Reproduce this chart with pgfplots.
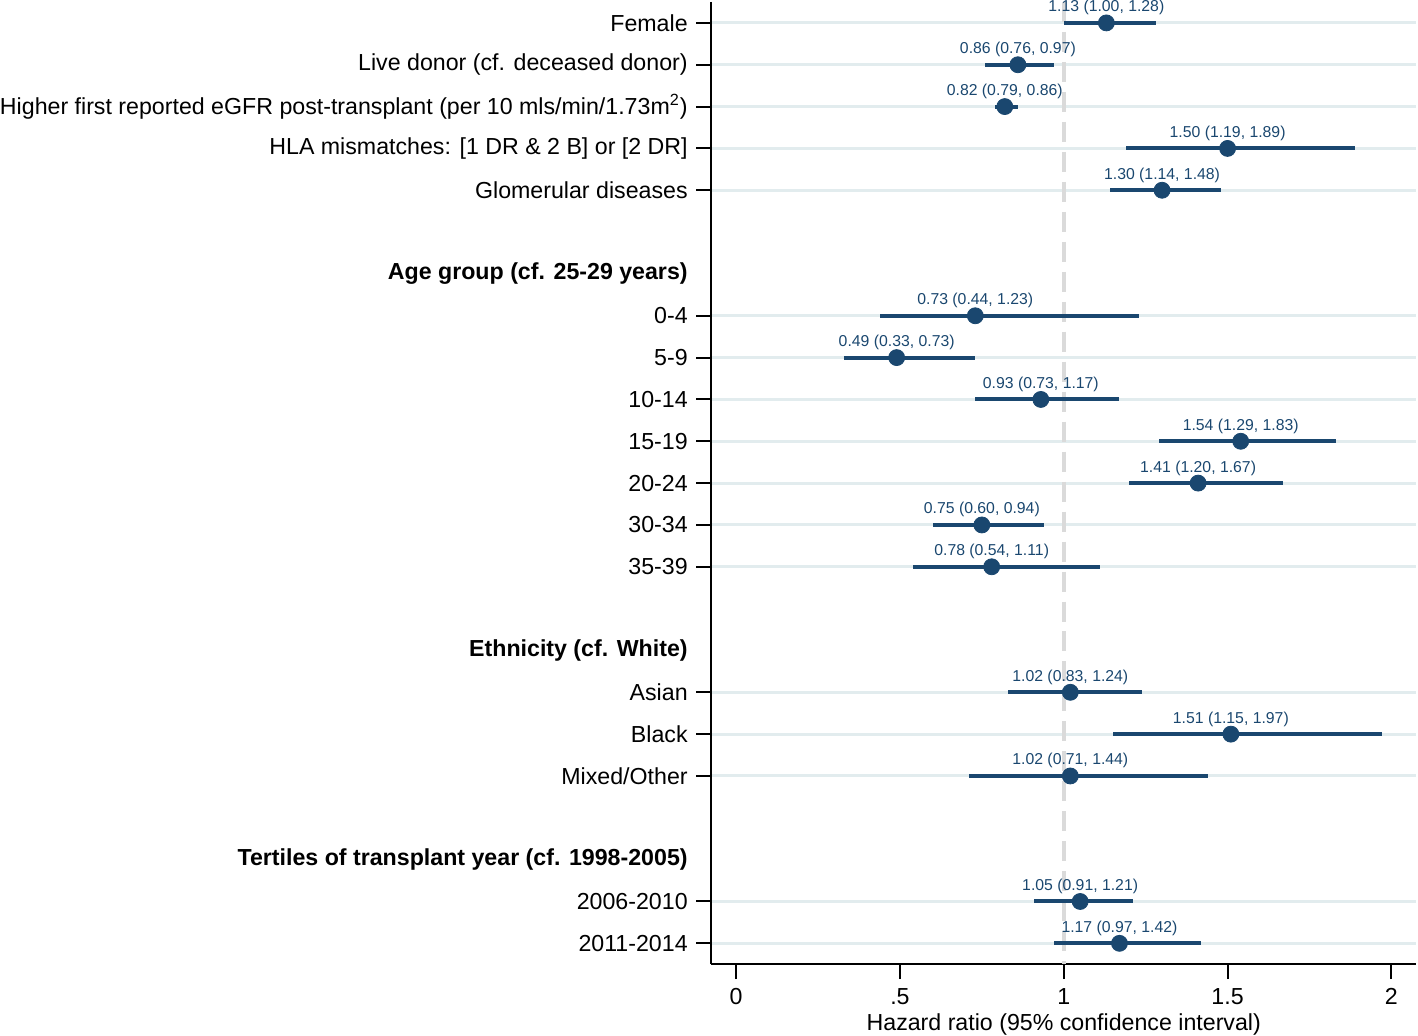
\documentclass[border=0pt]{standalone}
\usepackage{pgfplots}
\pgfplotsset{compat=1.18}
\usepackage{fontspec}
\setmainfont{Liberation Sans}
\definecolor{navy}{RGB}{26,71,111}
\definecolor{gridc}{RGB}{226,236,238}
\definecolor{refc}{RGB}{218,218,218}
\begin{document}
\begin{tikzpicture}
\begin{axis}[
  scale only axis,
  width=353pt, height=481.5pt,
  xmin=-0.0765, xmax=2.0765,
  ymin=-0.5, ymax=22.5,
  y dir=reverse,
  axis x line*=bottom, axis y line*=left,
  axis line style={-, line width=1pt, black},
  tick align=outside,
  major tick length=7.5pt,
  tick style={black, line width=1pt},
  xtick={0,0.5,1,1.5,2},
  xticklabels={0,.5,1,1.5,2},
  ytick={0,1,2,3,4,7,8,9,10,11,12,13,16,17,18,21,22},
  yticklabels={Female,Live donor (cf. deceased donor),Higher first reported eGFR post-transplant (per 10 mls/min/1.73m\textsuperscript{2}),{HLA mismatches: [1 DR \& 2 B] or [2 DR]},Glomerular diseases,0-4,5-9,10-14,15-19,20-24,30-34,35-39,Asian,Black,Mixed/Other,2006-2010,2011-2014},
  extra y ticks={6,15,20},
  extra y tick labels={\textbf{Age group (cf. 25-29 years)},\textbf{Ethnicity (cf. White)},\textbf{Tertiles of transplant year (cf. 1998-2005)}},
  extra y tick style={major tick style={draw=none}, ymajorgrids=false},
  ymajorgrids=true,
  major grid style={gridc, line width=1.5pt},
  tick label style={font=\fontsize{11.6}{14}\selectfont},
  yticklabel style={inner xsep=0pt, xshift=-4pt},
  xticklabel style={yshift=-1pt},
  xlabel={Hazard ratio (95\% confidence interval)},
  xlabel style={font=\fontsize{11.6}{14}\selectfont, inner ysep=0pt, yshift=-1pt},
  clip=false,
]
\addplot[refc, line width=2pt, dash pattern=on 10pt off 5pt] coordinates {(1,-0.5) (1,22.5)};
\addplot[navy, only marks, mark=*, mark size=4pt, mark options={fill=navy, draw=navy},
  error bars/.cd, x dir=both, x explicit, error mark=none,
  error bar style={navy, line width=2pt}]
  table[col sep=semicolon, x=est, y=row,
        x error plus expr=\thisrow{hi}-\thisrow{est},
        x error minus expr=\thisrow{est}-\thisrow{lo}] {
row;est;lo;hi
0;1.13;1.00;1.28
1;0.86;0.76;0.97
2;0.82;0.79;0.86
3;1.50;1.19;1.89
4;1.30;1.14;1.48
7;0.73;0.44;1.23
8;0.49;0.33;0.73
9;0.93;0.73;1.17
10;1.54;1.29;1.83
11;1.41;1.20;1.67
12;0.75;0.60;0.94
13;0.78;0.54;1.11
16;1.02;0.83;1.24
17;1.51;1.15;1.97
18;1.02;0.71;1.44
21;1.05;0.91;1.21
22;1.17;0.97;1.42
};
\addplot[only marks, mark=none,
  point meta=explicit symbolic,
  nodes near coords,
  every node near coord/.append style={anchor=base, yshift=5.5pt, inner sep=0pt, font=\fontsize{7.9}{9}\selectfont, text=navy}]
  table[col sep=semicolon, x=est, y=row, meta=lab] {
row;est;lab
0;1.13;1.13 (1.00, 1.28)
1;0.86;0.86 (0.76, 0.97)
2;0.82;0.82 (0.79, 0.86)
3;1.50;1.50 (1.19, 1.89)
4;1.30;1.30 (1.14, 1.48)
7;0.73;0.73 (0.44, 1.23)
8;0.49;0.49 (0.33, 0.73)
9;0.93;0.93 (0.73, 1.17)
10;1.54;1.54 (1.29, 1.83)
11;1.41;1.41 (1.20, 1.67)
12;0.75;0.75 (0.60, 0.94)
13;0.78;0.78 (0.54, 1.11)
16;1.02;1.02 (0.83, 1.24)
17;1.51;1.51 (1.15, 1.97)
18;1.02;1.02 (0.71, 1.44)
21;1.05;1.05 (0.91, 1.21)
22;1.17;1.17 (0.97, 1.42)
};
\end{axis}
\end{tikzpicture}
\end{document}
